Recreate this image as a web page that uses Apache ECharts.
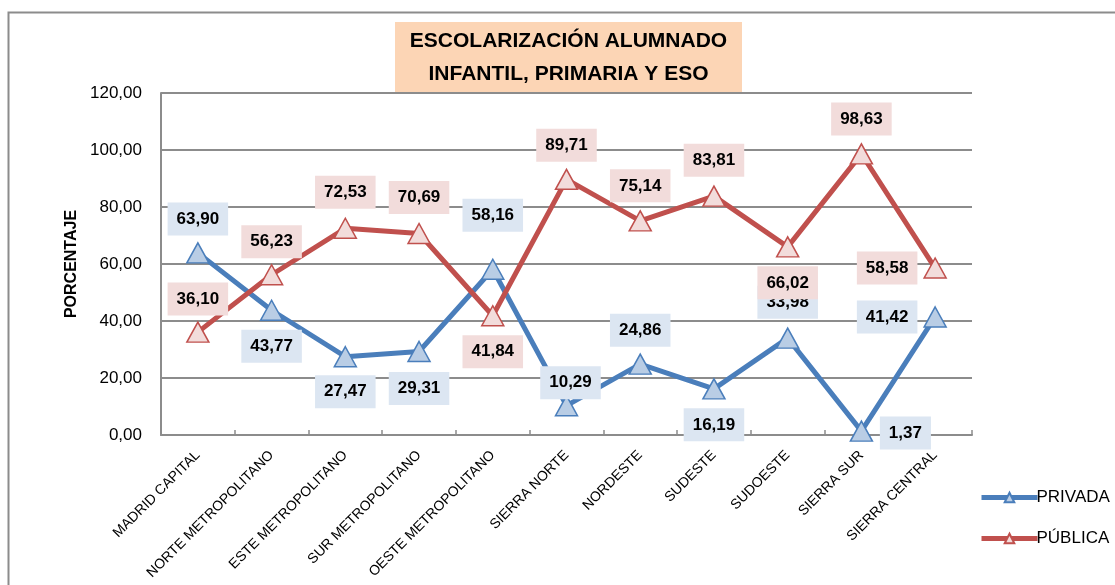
<!DOCTYPE html>
<html>
<head>
<meta charset="utf-8">
<script src="https://cdn.jsdelivr.net/npm/echarts@6/dist/echarts.min.js"></script>
<style>
  html, body { margin: 0; padding: 0; background: #fff; }
  #chart { width: 1115px; height: 585px; }
</style>
</head>
<body>
<div id="chart"></div>
<script>
// Zonas educativas
const categories = [
  'MADRID CAPITAL', 'NORTE METROPOLITANO', 'ESTE METROPOLITANO', 'SUR METROPOLITANO',
  'OESTE METROPOLITANO', 'SIERRA NORTE', 'NORDESTE', 'SUDESTE', 'SUDOESTE',
  'SIERRA SUR', 'SIERRA CENTRAL'
];
// Porcentaje de alumnado por titularidad
const privada = [63.90, 43.77, 27.47, 29.31, 58.16, 10.29, 24.86, 16.19, 33.98, 1.37, 41.42];
const publica = [36.10, 56.23, 72.53, 70.69, 41.84, 89.71, 75.14, 83.81, 66.02, 98.63, 58.58];
// Etiquetas del eje vertical
const yTickLabels = ['0,00', '20,00', '40,00', '60,00', '80,00', '100,00', '120,00'];

// Desplazamiento de cada etiqueta de valor respecto a su punto (px)
const privadaLabelOffsets = [[0,-34],[0,36],[0,35],[0,37],[0,-54],[4,-23],[0,-34],[0,36],[0,-36],[44,2],[-48,0]];
const publicaLabelOffsets = [[0,-33],[0,-33],[0,-36],[0,-36],[0,36],[0,-34],[0,-35],[0,-36],[0,36],[0,-35],[-48,0]];

const FONT = "'Liberation Sans', Arial, sans-serif";
const fmt = v => v.toFixed(2).replace('.', ',');

function buildData(values, offsets, bg) {
  return values.map((v, i) => ({
    value: v,
    label: {
      show: true,
      position: 'inside',
      offset: offsets[i],
      formatter: p => fmt(p.value),
      backgroundColor: bg,
      padding: [7, 9, 7, 9],
      color: '#000',
      fontFamily: FONT,
      fontWeight: 'bold',
      fontSize: 17,
      lineHeight: 19
    }
  }));
}

const chart = echarts.init(document.getElementById('chart'), null, { renderer: 'canvas' });

chart.setOption({
  backgroundColor: '#fff',
  animation: false,
  graphic: [
    {
      type: 'rect',
      shape: { x: 8.5, y: 12.5, width: 1200, height: 700 },
      style: { fill: 'none', stroke: '#8c8c8c', lineWidth: 2 },
      silent: true,
      z: 0
    },
    {
      type: 'rect',
      shape: { x: 395, y: 22, width: 347, height: 70 },
      style: { fill: '#fcd5b5' },
      silent: true,
      z: 10
    },
    {
      type: 'text',
      x: 568.5,
      y: 58,
      style: {
        text: 'ESCOLARIZACIÓN ALUMNADO\nINFANTIL, PRIMARIA Y ESO',
        align: 'center',
        verticalAlign: 'middle',
        font: 'bold 21px ' + FONT,
        lineHeight: 33,
        fill: '#000'
      },
      silent: true,
      z: 11
    }
  ],
  legend: {
    orient: 'vertical',
    left: 974,
    top: 484,
    itemWidth: 56,
    itemHeight: 12,
    itemGap: 24,
    lineStyle: { width: 5 },
    textStyle: { fontFamily: FONT, fontSize: 17, color: '#000', padding: [0, 0, 0, -6] },
    data: ['PRIVADA', 'PÚBLICA']
  },
  grid: { left: 161, right: 143, top: 93, bottom: 150, containLabel: false },
  xAxis: {
    type: 'category',
    data: categories,
    boundaryGap: true,
    axisLine: { lineStyle: { color: '#8c8c8c', width: 2 } },
    axisTick: { show: true, inside: true, length: 5, lineStyle: { color: '#8c8c8c', width: 1.5 } },
    axisLabel: {
      interval: 0,
      rotate: 45,
      margin: 18,
      fontFamily: FONT,
      fontSize: 14,
      color: '#000'
    }
  },
  yAxis: {
    type: 'value',
    min: 0,
    max: 120,
    interval: 20,
    name: 'PORCENTAJE',
    nameLocation: 'middle',
    nameGap: 78,
    nameRotate: 90,
    nameTextStyle: { fontFamily: FONT, fontWeight: 'bold', fontSize: 16, color: '#000' },
    axisLine: { show: true, lineStyle: { color: '#8c8c8c', width: 2 } },
    axisTick: { show: false },
    splitLine: { lineStyle: { color: '#8c8c8c', width: 2 } },
    axisLabel: {
      margin: 19,
      fontFamily: FONT,
      fontSize: 17,
      color: '#000',
      formatter: v => yTickLabels[Math.round(v / 20)]
    }
  },
  series: [
    {
      name: 'PRIVADA',
      type: 'line',
      data: buildData(privada, privadaLabelOffsets, '#dce6f2'),
      symbol: 'triangle',
      symbolSize: [22, 20],
      lineStyle: { color: '#4a7ebb', width: 5 },
      itemStyle: { color: '#b9cde5', borderColor: '#4a7ebb', borderWidth: 1.5 },
      z: 3
    },
    {
      name: 'PÚBLICA',
      type: 'line',
      data: buildData(publica, publicaLabelOffsets, '#f2dcdb'),
      symbol: 'triangle',
      symbolSize: [22, 20],
      lineStyle: { color: '#c0504d', width: 5 },
      itemStyle: { color: '#f2dcdb', borderColor: '#c0504d', borderWidth: 1.5 },
      z: 4
    }
  ]
});
</script>
</body>
</html>
